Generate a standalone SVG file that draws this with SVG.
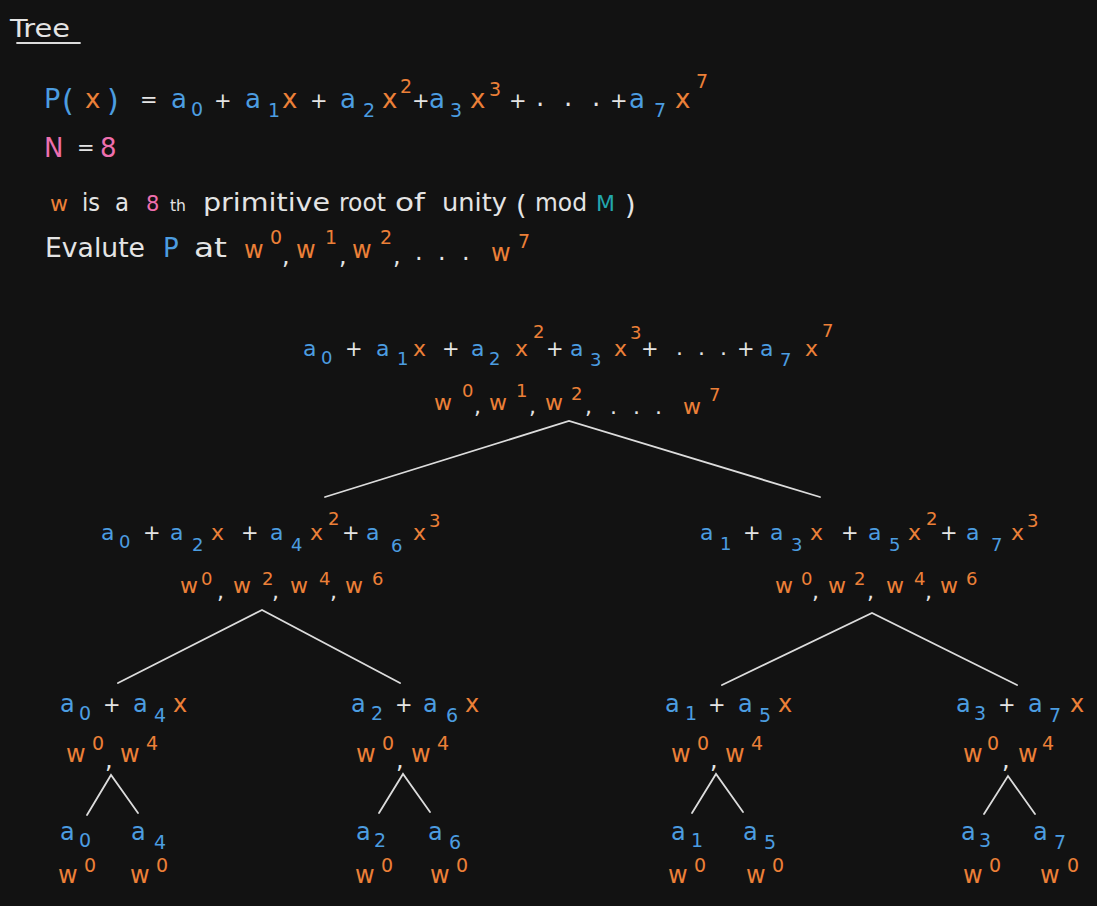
<svg xmlns="http://www.w3.org/2000/svg" width="1097" height="906" viewBox="0 0 1097 906">
<style>
text{font-family:"DejaVu Sans","Liberation Sans",sans-serif}
.b{fill:#4c9de0}.o{fill:#ec8038}.w{fill:#e4e4e4}.p{fill:#ee6fae}.c{fill:#22a6ac}
.L{font-size:26px}.Ls{font-size:19px}.M{font-size:22px}.Ms{font-size:18px}.K{font-size:18px}.T{font-size:24px}.Ts{font-size:19px}
.pl{font-size:21px}.pm{font-size:21px}
.ln{stroke:#dcdcdc;stroke-width:1.8;stroke-linecap:round;fill:none}
</style>
<rect width="1097" height="906" fill="#121212"/>

<g id="header">
<text x="10" y="37" class="w" font-size="25" textLength="60" lengthAdjust="spacingAndGlyphs">Tree</text>
<line x1="17" y1="43" x2="80" y2="43" class="ln"/>
</g>

<g id="poly">
<text x="44" y="108" class="b" font-size="27">P</text>
<text x="62" y="111" class="b" font-size="30">(</text>
<text x="85" y="108" class="o L">x</text>
<text x="107" y="111" class="b" font-size="30">)</text>
<text x="140" y="107" class="w pl">=</text>
<text x="171" y="108" class="b L">a</text><text x="191" y="116" class="b Ls">0</text>
<text x="214" y="108" class="w pl">+</text>
<text x="245" y="108" class="b L">a</text><text x="268" y="117" class="b Ls">1</text><text x="282" y="108" class="o L">x</text>
<text x="310" y="108" class="w pl">+</text>
<text x="340" y="108" class="b L">a</text><text x="363" y="117" class="b Ls">2</text><text x="382" y="108" class="o L">x</text><text x="400" y="93" class="o Ls">2</text>
<text x="412" y="108" class="w pl">+</text>
<text x="429" y="108" class="b L">a</text><text x="450" y="117" class="b Ls">3</text><text x="470" y="108" class="o L">x</text><text x="489" y="96" class="o Ls">3</text>
<text x="509" y="108" class="w pl">+</text>
<text x="536" y="106" class="w L">.</text><text x="564" y="106" class="w L">.</text><text x="592" y="106" class="w L">.</text>
<text x="610" y="108" class="w pl">+</text>
<text x="629" y="108" class="b L">a</text><text x="654" y="117" class="b Ls">7</text><text x="675" y="108" class="o L">x</text><text x="696" y="88" class="o Ls">7</text>
</g>

<g id="n-def">
<text x="44" y="157" class="p" font-size="26">N</text>
<text x="77" y="155" class="w pl">=</text>
<text x="100" y="157" class="p" font-size="26">8</text>
</g>

<g id="root-def">
<text x="50" y="211" class="o" font-size="22">w</text>
<text x="82" y="211" class="w T" textLength="18" lengthAdjust="spacingAndGlyphs">is</text>
<text x="115" y="211" class="w T" textLength="14" lengthAdjust="spacingAndGlyphs">a</text>
<text x="146" y="211" class="p" font-size="21">8</text>
<text x="170" y="211" class="w" font-size="15" textLength="16" lengthAdjust="spacingAndGlyphs">th</text>
<text x="203" y="211" class="w T" textLength="127" lengthAdjust="spacingAndGlyphs">primitive</text>
<text x="339" y="211" class="w T" textLength="47" lengthAdjust="spacingAndGlyphs">root</text>
<text x="395" y="211" class="w T" textLength="30" lengthAdjust="spacingAndGlyphs">of</text>
<text x="442" y="211" class="w T" textLength="65" lengthAdjust="spacingAndGlyphs">unity</text>
<text x="516" y="214" class="w" font-size="27">(</text>
<text x="535" y="211" class="w T" textLength="52" lengthAdjust="spacingAndGlyphs">mod</text>
<text x="596" y="211" class="c" font-size="22">M</text>
<text x="625" y="214" class="w" font-size="27">)</text>
</g>

<g id="evaluate">
<text x="45" y="257" class="w" font-size="26" textLength="100" lengthAdjust="spacingAndGlyphs">Evalute</text>
<text x="163" y="257" class="b" font-size="26">P</text>
<text x="194" y="257" class="w" font-size="26" textLength="33" lengthAdjust="spacingAndGlyphs">at</text>
<text x="244" y="258" class="o T">w</text><text x="270" y="244" class="o Ts">0</text><text x="282" y="264" class="w T">,</text>
<text x="296" y="258" class="o T">w</text><text x="325" y="244" class="o Ts">1</text><text x="339" y="264" class="w T">,</text>
<text x="352" y="258" class="o T">w</text><text x="380" y="244" class="o Ts">2</text><text x="393" y="264" class="w T">,</text>
<text x="415" y="260" class="w T">.</text><text x="438" y="260" class="w T">.</text><text x="462" y="260" class="w T">.</text>
<text x="491" y="261" class="o T">w</text><text x="518" y="248" class="o Ts">7</text>
</g>

<g id="connectors">
<polyline points="325,497 569,421 820,497" class="ln"/>
<polyline points="118,683 262,610 400,683" class="ln"/>
<polyline points="722,685 872,613 1017,685" class="ln"/>
<polyline points="87,815 111,775 138,813" class="ln"/>
<polyline points="379,813 403,774 430,812" class="ln"/>
<polyline points="692,813 716,774 743,812" class="ln"/>
<polyline points="984,814 1008,776 1035,814" class="ln"/>
</g>

<g id="node-root">
<text x="303" y="356" class="b M">a</text><text x="321" y="364" class="b Ms">0</text>
<text x="345" y="356" class="w pm">+</text>
<text x="376" y="356" class="b M">a</text><text x="397" y="365" class="b Ms">1</text><text x="413" y="356" class="o M">x</text>
<text x="442" y="356" class="w pm">+</text>
<text x="471" y="356" class="b M">a</text><text x="489" y="365" class="b Ms">2</text><text x="515" y="356" class="o M">x</text><text x="533" y="338" class="o Ms">2</text>
<text x="546" y="356" class="w pm">+</text>
<text x="570" y="356" class="b M">a</text><text x="590" y="366" class="b Ms">3</text><text x="614" y="356" class="o M">x</text><text x="630" y="339" class="o Ms">3</text>
<text x="641" y="356" class="w pm">+</text>
<text x="676" y="355" class="w M">.</text><text x="698" y="355" class="w M">.</text><text x="720" y="355" class="w M">.</text>
<text x="737" y="356" class="w pm">+</text>
<text x="760" y="356" class="b M">a</text><text x="780" y="366" class="b Ms">7</text><text x="805" y="356" class="o M">x</text><text x="822" y="337" class="o Ms">7</text>
<text x="434" y="410" class="o M">w</text><text x="462" y="397" class="o Ms">0</text><text x="474" y="414" class="w M">,</text>
<text x="489" y="410" class="o M">w</text><text x="516" y="397" class="o Ms">1</text><text x="529" y="414" class="w M">,</text>
<text x="545" y="410" class="o M">w</text><text x="571" y="400" class="o Ms">2</text><text x="585" y="414" class="w M">,</text>
<text x="610" y="414" class="w M">.</text><text x="633" y="414" class="w M">.</text><text x="655" y="414" class="w M">.</text>
<text x="683" y="414" class="o M">w</text><text x="709" y="401" class="o Ms">7</text>
</g>

<g id="node-even">
<text x="101" y="540" class="b M">a</text><text x="119" y="548" class="b K">0</text>
<text x="143" y="540" class="w pm">+</text>
<text x="170" y="540" class="b M">a</text><text x="192" y="551" class="b K">2</text><text x="211" y="540" class="o M">x</text>
<text x="241" y="540" class="w pm">+</text>
<text x="270" y="540" class="b M">a</text><text x="291" y="551" class="b K">4</text><text x="310" y="540" class="o M">x</text><text x="328" y="525" class="o K">2</text>
<text x="342" y="540" class="w pm">+</text>
<text x="366" y="540" class="b M">a</text><text x="391" y="552" class="b K">6</text><text x="413" y="540" class="o M">x</text><text x="429" y="527" class="o K">3</text>
<text x="180" y="593" class="o M">w</text><text x="201" y="585" class="o K">0</text><text x="217" y="599" class="w M">,</text>
<text x="233" y="593" class="o M">w</text><text x="262" y="585" class="o K">2</text><text x="272" y="599" class="w M">,</text>
<text x="290" y="593" class="o M">w</text><text x="319" y="585" class="o K">4</text><text x="330" y="599" class="w M">,</text>
<text x="345" y="593" class="o M">w</text><text x="372" y="585" class="o K">6</text>
</g>

<g id="node-odd">
<text x="700" y="540" class="b M">a</text><text x="720" y="550" class="b K">1</text>
<text x="743" y="540" class="w pm">+</text>
<text x="770" y="540" class="b M">a</text><text x="791" y="551" class="b K">3</text><text x="810" y="540" class="o M">x</text>
<text x="841" y="540" class="w pm">+</text>
<text x="868" y="540" class="b M">a</text><text x="889" y="551" class="b K">5</text><text x="908" y="540" class="o M">x</text><text x="926" y="525" class="o K">2</text>
<text x="940" y="540" class="w pm">+</text>
<text x="966" y="540" class="b M">a</text><text x="991" y="551" class="b K">7</text><text x="1011" y="540" class="o M">x</text><text x="1027" y="527" class="o K">3</text>
<text x="775" y="593" class="o M">w</text><text x="801" y="585" class="o K">0</text><text x="812" y="599" class="w M">,</text>
<text x="828" y="593" class="o M">w</text><text x="854" y="585" class="o K">2</text><text x="867" y="599" class="w M">,</text>
<text x="886" y="593" class="o M">w</text><text x="914" y="585" class="o K">4</text><text x="925" y="599" class="w M">,</text>
<text x="940" y="593" class="o M">w</text><text x="966" y="585" class="o K">6</text>
</g>

<g id="node-04">
<text x="60" y="712" class="b T">a</text><text x="79" y="720" class="b Ts">0</text>
<text x="103" y="712" class="w pm">+</text>
<text x="133" y="712" class="b T">a</text><text x="154" y="722" class="b Ts">4</text><text x="173" y="712" class="o T">x</text>
<text x="66" y="762" class="o T">w</text><text x="92" y="750" class="o Ts">0</text><text x="105" y="768" class="w T">,</text>
<text x="120" y="762" class="o T">w</text><text x="146" y="750" class="o Ts">4</text>
</g>

<g id="node-26">
<text x="351" y="712" class="b T">a</text><text x="371" y="720" class="b Ts">2</text>
<text x="395" y="712" class="w pm">+</text>
<text x="423" y="712" class="b T">a</text><text x="446" y="722" class="b Ts">6</text><text x="465" y="712" class="o T">x</text>
<text x="356" y="762" class="o T">w</text><text x="382" y="750" class="o Ts">0</text><text x="396" y="768" class="w T">,</text>
<text x="411" y="762" class="o T">w</text><text x="437" y="750" class="o Ts">4</text>
</g>

<g id="node-15">
<text x="665" y="712" class="b T">a</text><text x="685" y="720" class="b Ts">1</text>
<text x="708" y="712" class="w pm">+</text>
<text x="738" y="712" class="b T">a</text><text x="759" y="722" class="b Ts">5</text><text x="778" y="712" class="o T">x</text>
<text x="671" y="762" class="o T">w</text><text x="697" y="750" class="o Ts">0</text><text x="710" y="768" class="w T">,</text>
<text x="725" y="762" class="o T">w</text><text x="751" y="750" class="o Ts">4</text>
</g>

<g id="node-37">
<text x="956" y="712" class="b T">a</text><text x="974" y="720" class="b Ts">3</text>
<text x="998" y="712" class="w pm">+</text>
<text x="1028" y="712" class="b T">a</text><text x="1049" y="722" class="b Ts">7</text><text x="1070" y="712" class="o T">x</text>
<text x="963" y="762" class="o T">w</text><text x="987" y="750" class="o Ts">0</text><text x="1002" y="768" class="w T">,</text>
<text x="1018" y="762" class="o T">w</text><text x="1042" y="750" class="o Ts">4</text>
</g>

<g id="leaf-a0"><text x="60" y="840" class="b T">a</text><text x="79" y="847" class="b Ts">0</text><text x="58" y="883" class="o T">w</text><text x="84" y="872" class="o Ts">0</text></g>
<g id="leaf-a4"><text x="131" y="840" class="b T">a</text><text x="154" y="849" class="b Ts">4</text><text x="130" y="883" class="o T">w</text><text x="156" y="872" class="o Ts">0</text></g>
<g id="leaf-a2"><text x="356" y="840" class="b T">a</text><text x="374" y="847" class="b Ts">2</text><text x="355" y="883" class="o T">w</text><text x="381" y="872" class="o Ts">0</text></g>
<g id="leaf-a6"><text x="428" y="840" class="b T">a</text><text x="449" y="849" class="b Ts">6</text><text x="430" y="883" class="o T">w</text><text x="456" y="872" class="o Ts">0</text></g>
<g id="leaf-a1"><text x="671" y="840" class="b T">a</text><text x="691" y="847" class="b Ts">1</text><text x="668" y="883" class="o T">w</text><text x="694" y="872" class="o Ts">0</text></g>
<g id="leaf-a5"><text x="743" y="840" class="b T">a</text><text x="764" y="849" class="b Ts">5</text><text x="746" y="883" class="o T">w</text><text x="772" y="872" class="o Ts">0</text></g>
<g id="leaf-a3"><text x="961" y="840" class="b T">a</text><text x="979" y="847" class="b Ts">3</text><text x="963" y="883" class="o T">w</text><text x="989" y="872" class="o Ts">0</text></g>
<g id="leaf-a7"><text x="1033" y="840" class="b T">a</text><text x="1054" y="849" class="b Ts">7</text><text x="1040" y="883" class="o T">w</text><text x="1067" y="872" class="o Ts">0</text></g>
</svg>
